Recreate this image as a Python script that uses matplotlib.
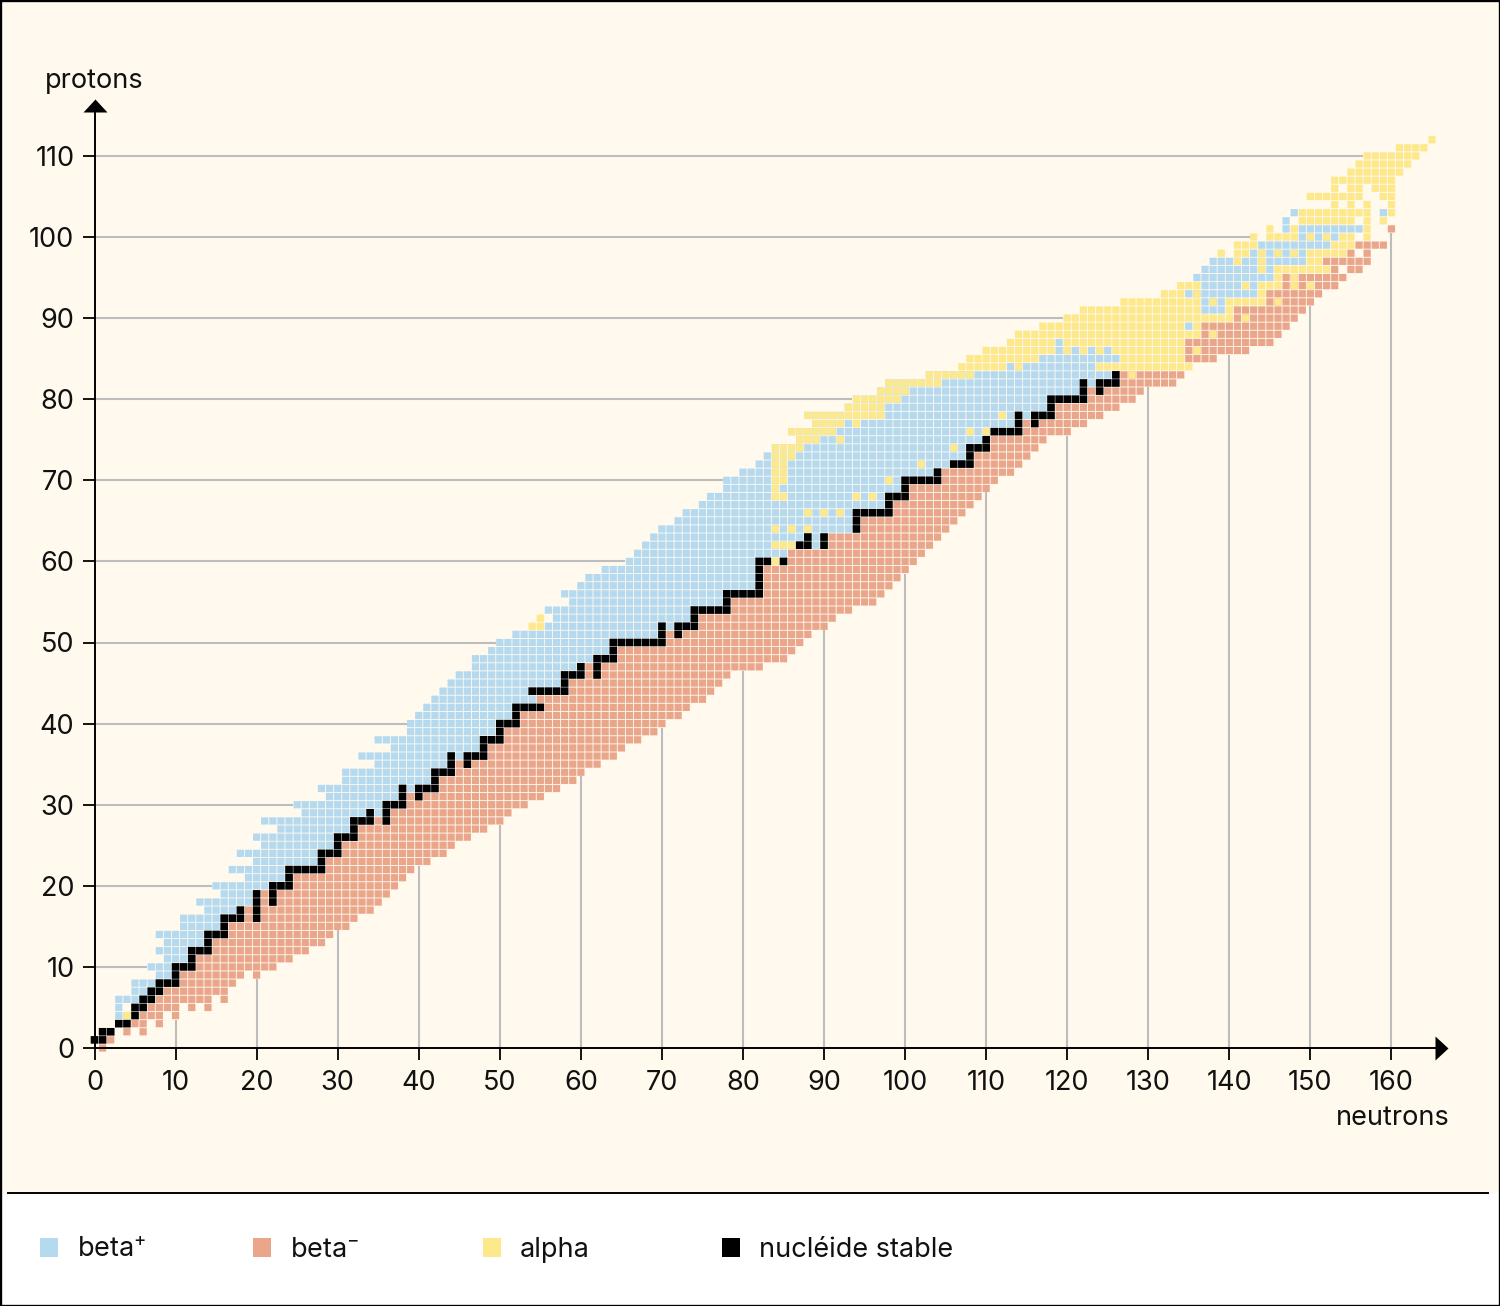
import matplotlib
matplotlib.use('Agg')
import matplotlib.pyplot as plt
from matplotlib.collections import PolyCollection
from matplotlib.patches import Rectangle

plt.rcParams['font.family'] = ['Inter', 'DejaVu Sans']
plt.rcParams['mathtext.default'] = 'regular'

# proton number -> (first neutron, last neutron) runs
beta_plus = {
    4: [(3, 5)], 5: [(3, 3), (5, 6)], 6: [(3, 7)], 7: [(5, 8)], 8: [(5, 10)], 9: [(8, 10)], 10: [(7, 12)],
    11: [(9, 12)], 12: [(8, 14)], 13: [(9, 14)], 14: [(8, 16)], 15: [(11, 16)], 16: [(11, 18)], 17: [(14, 18)],
    18: [(13, 20)], 19: [(16, 20)], 20: [(15, 24)], 21: [(19, 24)], 22: [(17, 28)], 23: [(20, 28)], 24: [(18, 30)],
    25: [(21, 30)], 26: [(20, 32)], 27: [(23, 32)], 28: [(21, 34)], 29: [(26, 36)], 30: [(25, 38)], 31: [(29, 38)],
    32: [(28, 42)], 33: [(31, 42)], 34: [(31, 44)], 35: [(35, 44)], 36: [(33, 48)], 37: [(37, 48)], 38: [(35, 50)],
    39: [(39, 50)], 40: [(39, 52)], 41: [(40, 52)], 42: [(41, 55)], 43: [(42, 54)], 44: [(43, 58)], 45: [(44, 58)],
    46: [(45, 60)], 47: [(47, 60)], 48: [(47, 64)], 49: [(49, 64)], 50: [(50, 70)], 51: [(52, 70)], 52: [(56, 74)],
    53: [(57, 74)], 54: [(56, 78)], 55: [(59, 78)], 56: [(58, 82)], 57: [(60, 82)], 58: [(61, 82)], 59: [(63, 82)],
    60: [(66, 85)], 61: [(67, 85)], 62: [(68, 90)], 63: [(69, 90)], 64: [(70, 94)], 65: [(72, 94)], 66: [(73, 98)],
    67: [(75, 98)], 68: [(76, 100)], 69: [(78, 100)], 70: [(78, 104)], 71: [(80, 104)], 72: [(82, 108)],
    73: [(83, 108)], 74: [(84, 110)], 75: [(87, 110)], 76: [(86, 114)], 77: [(89, 114)], 78: [(88, 118)],
    79: [(93, 118)], 80: [(94, 122)], 81: [(97, 122)], 82: [(98, 126)], 83: [(103, 126)], 84: [(113, 123)],
    85: [(117, 126)], 86: [(119, 125)], 87: [(119, 119)], 89: [(135, 135)], 91: [(137, 139)], 92: [(137, 139)],
    93: [(135, 143)], 94: [(137, 143)], 95: [(136, 145)], 96: [(137, 145)], 97: [(138, 149)], 98: [(143, 149)],
    99: [(144, 152)], 100: [(149, 153)], 101: [(147, 147), (149, 156)], 102: [(147, 147)],
    103: [(148, 148), (159, 159)],
}
beta_minus = {
    0: [(1, 1)], 1: [(2, 2)], 2: [(4, 4), (6, 6)], 3: [(5, 6), (8, 8)], 4: [(6, 8), (10, 10)],
    5: [(7, 10), (12, 12), (14, 14)], 6: [(8, 14), (16, 16)], 7: [(9, 16)], 8: [(11, 17)], 9: [(11, 18), (20, 20)],
    10: [(13, 22)], 11: [(13, 24)], 12: [(15, 26)], 13: [(15, 28)], 14: [(17, 29)], 15: [(17, 31)], 16: [(19, 32)],
    17: [(19, 34)], 18: [(21, 35)], 19: [(21, 36)], 20: [(25, 37)], 21: [(25, 38)], 22: [(29, 39)], 23: [(29, 41)],
    24: [(31, 43)], 25: [(31, 44)], 26: [(33, 46)], 27: [(33, 48)], 28: [(35, 50)], 29: [(37, 51)], 30: [(39, 53)],
    31: [(39, 55)], 32: [(43, 57)], 33: [(43, 59)], 34: [(45, 60)], 35: [(45, 62)], 36: [(49, 64)], 37: [(49, 65)],
    38: [(51, 67)], 39: [(51, 69)], 40: [(53, 70)], 41: [(53, 72)], 42: [(56, 73)], 43: [(55, 75)], 44: [(59, 76)],
    45: [(59, 77)], 46: [(61, 78)], 47: [(61, 82)], 48: [(65, 85)], 49: [(65, 86)], 50: [(71, 87)], 51: [(71, 88)],
    52: [(75, 90)], 53: [(75, 91)], 54: [(79, 93)], 55: [(79, 96)], 56: [(83, 97)], 57: [(83, 98)], 58: [(83, 99)],
    59: [(83, 100)], 60: [(86, 101)], 61: [(86, 102)], 62: [(91, 103)], 63: [(91, 104)], 64: [(95, 105)],
    65: [(95, 106)], 66: [(99, 107)], 67: [(99, 108)], 68: [(101, 109)], 69: [(101, 110)], 70: [(105, 111)],
    71: [(105, 113)], 72: [(109, 114)], 73: [(109, 115)], 74: [(111, 116)], 75: [(111, 117)], 76: [(115, 120)],
    77: [(115, 122)], 78: [(119, 124)], 79: [(119, 126)], 80: [(123, 128)], 81: [(123, 129)], 82: [(127, 133)],
    83: [(127, 134)], 85: [(135, 138)], 86: [(135, 142)], 87: [(135, 145)], 88: [(137, 146)], 89: [(137, 147)],
    90: [(141, 148)], 91: [(141, 149)], 92: [(145, 150)], 93: [(145, 151)], 94: [(147, 153)], 95: [(147, 154)],
    96: [(153, 153), (155, 156)], 97: [(152, 157)], 98: [(155, 155), (157, 157)], 99: [(156, 159)], 101: [(160, 160)],
}
alpha = {
    4: [(4, 4)], 52: [(54, 55)], 53: [(55, 55)], 60: [(84, 84)], 62: [(84, 86)], 64: [(84, 84), (86, 86), (88, 88)],
    66: [(88, 88), (90, 90), (92, 92)], 68: [(84, 85), (94, 94), (96, 96)], 69: [(84, 84)],
    70: [(84, 85), (98, 98)], 71: [(84, 85)], 72: [(84, 85), (102, 102)], 73: [(84, 86)], 74: [(84, 87), (106, 106)],
    75: [(87, 89), (92, 92)], 76: [(86, 91), (108, 108), (110, 110)], 77: [(89, 92), (94, 94)],
    78: [(88, 97), (112, 112)], 79: [(93, 97)], 80: [(94, 99)], 81: [(97, 100)], 82: [(98, 104)],
    83: [(103, 108), (128, 128)], 84: [(107, 112), (114, 114), (124, 135)], 85: [(108, 116), (127, 134)],
    86: [(110, 118), (120, 120), (122, 122), (124, 124), (126, 134), (136, 136)], 87: [(113, 118), (120, 134)],
    88: [(114, 136), (138, 138)], 89: [(117, 134), (136, 136)], 90: [(120, 140), (142, 142)],
    91: [(122, 136), (140, 140)], 92: [(127, 136), (138, 138), (140, 144), (146, 146)],
    93: [(132, 134), (136, 136), (144, 144)], 94: [(134, 136), (142, 142), (144, 146), (148, 148), (150, 150)],
    95: [(146, 146), (148, 148)], 96: [(144, 144), (146, 152)], 97: [(141, 141), (144, 144), (150, 151)],
    98: [(139, 139), (141, 142), (144, 144), (146, 146), (148, 148), (150, 154)], 99: [(141, 143), (153, 155)],
    100: [(143, 143), (145, 148), (150, 150), (152, 152), (154, 155), (157, 157)],
    101: [(145, 145), (148, 148), (157, 157)], 102: [(149, 155), (157, 157), (159, 159)],
    103: [(149, 157), (160, 160)], 104: [(153, 153), (155, 155), (157, 157), (160, 160)],
    105: [(150, 156), (159, 160)], 106: [(153, 153), (155, 156), (158, 160)], 107: [(153, 160)], 108: [(155, 161)],
    109: [(156, 162)], 110: [(157, 163)], 111: [(161, 164)], 112: [(165, 165)],
}
stable = {
    1: [(0, 1)], 2: [(1, 2)], 3: [(3, 4)], 4: [(5, 5)], 5: [(5, 6)], 6: [(6, 7)], 7: [(7, 8)], 8: [(8, 10)],
    9: [(10, 10)], 10: [(10, 12)], 11: [(12, 12)], 12: [(12, 14)], 13: [(14, 14)], 14: [(14, 16)], 15: [(16, 16)],
    16: [(16, 18), (20, 20)], 17: [(18, 18), (20, 20)], 18: [(20, 20), (22, 22)], 19: [(20, 20), (22, 22)],
    20: [(22, 24)], 21: [(24, 24)], 22: [(24, 28)], 23: [(28, 28)], 24: [(28, 30)], 25: [(30, 30)], 26: [(30, 32)],
    27: [(32, 32)], 28: [(32, 34), (36, 36)], 29: [(34, 34), (36, 36)], 30: [(36, 38)], 31: [(38, 38), (40, 40)],
    32: [(38, 38), (40, 42)], 33: [(42, 42)], 34: [(42, 44)], 35: [(44, 44), (46, 46)], 36: [(44, 44), (46, 48)],
    37: [(48, 48)], 38: [(48, 50)], 39: [(50, 50)], 40: [(50, 52)], 41: [(52, 52)], 42: [(52, 55)], 44: [(54, 58)],
    45: [(58, 58)], 46: [(58, 60), (62, 62)], 47: [(60, 60), (62, 62)], 48: [(62, 64)], 49: [(64, 64)], 50: [(64, 70)],
    51: [(70, 70), (72, 72)], 52: [(70, 70), (72, 74)], 53: [(74, 74)], 54: [(74, 78)], 55: [(78, 78)], 56: [(78, 82)],
    57: [(82, 82)], 58: [(82, 82)], 59: [(82, 82)], 60: [(82, 83), (85, 85)], 62: [(87, 88), (90, 90)],
    63: [(88, 88), (90, 90)], 64: [(94, 94)], 65: [(94, 94)], 66: [(94, 98)], 67: [(98, 98)], 68: [(98, 100)],
    69: [(100, 100)], 70: [(100, 104)], 71: [(104, 104)], 72: [(106, 108)], 73: [(108, 108)], 74: [(108, 110)],
    75: [(110, 110)], 76: [(111, 114)], 77: [(114, 114), (116, 116)], 78: [(114, 114), (116, 118)], 79: [(118, 118)],
    80: [(118, 122)], 81: [(122, 122), (124, 124)], 82: [(122, 122), (124, 126)], 83: [(126, 126)],
}

x_ticks = list(range(0, 170, 10))[:17]
y_ticks = list(range(0, 120, 10))
legend_labels = ['beta$^{+}$', 'beta$^{-}$', 'alpha', 'nucléide stable']

CREAM = '#fff9ee'
BLUE = '#b5d9ef'
SALMON = '#e9a68b'
YELLOW = '#fde98c'
GRID = '#bdbdbd'
W, H = 1500, 1306


def cells(runs):
    xs, ys = [], []
    for z, row in runs.items():
        for first, last in row:
            for n in range(first, last + 1):
                xs.append(n)
                ys.append(z)
    return xs, ys


def fx(px):
    return px / W


def fy(py):
    return 1 - py / H


fig = plt.figure(figsize=(W / 100, H / 100), dpi=100, facecolor=CREAM)
ax = fig.add_axes([fx(94.5), fy(1048), fx(1435 - 94.5), (1048 - 112) / H])
ax.patch.set_alpha(0)
ax.set_xlim(0, (1435 - 94.5) / 8.106)
ax.set_ylim(0, (1048 - 112) / 8.11)

# bottom band with the legend
fig.add_artist(Rectangle((0, 0), 1, fy(1193), transform=fig.transFigure, fc='white', ec='none', zorder=-5))
fig.add_artist(plt.Line2D([fx(8), fx(1488)], [fy(1193), fy(1193)], color='black', lw=1.4))
fig.add_artist(Rectangle((0, 0), 1, 1, transform=fig.transFigure, fc='none', ec='black', lw=2.4))

# half is half a cell, it leaves the thin cream gap between cells
for series, color, zo, half in [(beta_plus, BLUE, 3, 0.445), (beta_minus, SALMON, 3.1, 0.445),
                                (alpha, YELLOW, 3.2, 0.445), (stable, 'black', 3.3, 0.47)]:
    xs, ys = cells(series)
    squares = [[(n - half, z - half), (n + half, z - half), (n + half, z + half), (n - half, z + half)]
               for n, z in zip(xs, ys)]
    coll = PolyCollection(squares, facecolors=color, edgecolors='none', clip_on=False, zorder=zo)
    coll.set_snap(False)  # snapped squares give uneven gaps
    ax.add_collection(coll)

# grid lines stop at the first cell of their row or column
all_cells = [cells(s) for s in (beta_plus, beta_minus, alpha, stable)]
all_x = [n for c in all_cells for n in c[0]]
all_y = [z for c in all_cells for z in c[1]]
for z in y_ticks[1:]:
    first = min(n for n, zz in zip(all_x, all_y) if zz == z)
    ax.plot([0, first - 0.5], [z, z], color=GRID, lw=1.5, zorder=1, solid_capstyle='butt')
for n in x_ticks[1:]:
    low = min(zz for nn, zz in zip(all_x, all_y) if nn == n)
    ax.plot([n, n], [0, low - 0.5], color=GRID, lw=1.5, zorder=1, solid_capstyle='butt')

for side in ['top', 'right']:
    ax.spines[side].set_visible(False)
for side in ['left', 'bottom']:
    ax.spines[side].set_linewidth(1.4)
    ax.spines[side].set_zorder(4)
ax.set_xticks(x_ticks)
ax.set_yticks(y_ticks)
ax.tick_params(axis='both', length=8.5, width=1.3, labelsize=19.5, color='black', labelcolor='#111111')
ax.tick_params(axis='x', pad=7)
ax.tick_params(axis='y', pad=6)

# axis arrow heads
ax.plot(0, 1, marker=[(-12, 0), (12, 0), (0, 13)], ms=18.7, color='black', mew=0,
        transform=ax.get_xaxis_transform(), clip_on=False, zorder=5)
ax.plot(1, 0, marker=[(0, -12), (0, 12), (13, 0)], ms=18.7, color='black', mew=0,
        transform=ax.get_yaxis_transform(), clip_on=False, zorder=5)

fig.text(fx(45), fy(88), 'protons', fontsize=19.5, color='#111111', ha='left', va='baseline')
fig.text(fx(1450), fy(1125), 'neutrons', fontsize=19.5, color='#111111', ha='right', va='baseline')

legend_colors = [BLUE, SALMON, YELLOW, 'black']
legend_x = [40, 253, 483, 722]
for label, color, x0 in zip(legend_labels, legend_colors, legend_x):
    fig.add_artist(Rectangle((fx(x0), fy(1257)), 18 / W, 19 / H, transform=fig.transFigure, fc=color, ec='none'))
    fig.text(fx(x0 + 37), fy(1257), label, fontsize=19.5, color='#111111', ha='left', va='baseline')

fig.savefig('out.png', dpi=100, facecolor=fig.get_facecolor())
